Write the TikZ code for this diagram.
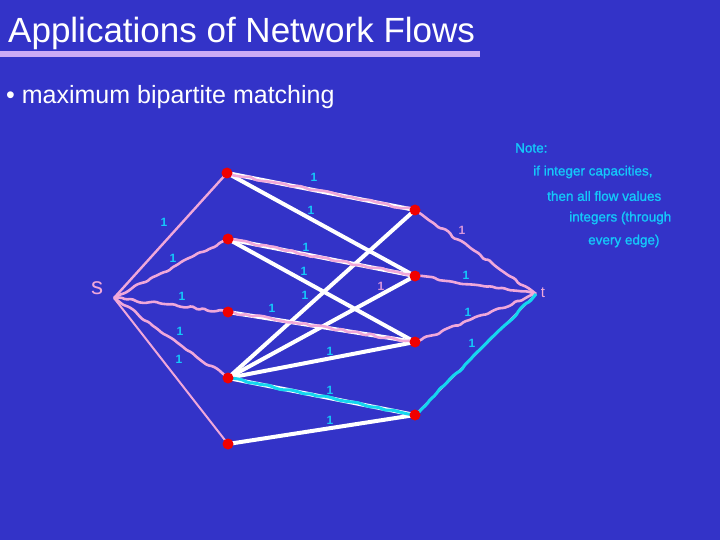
\documentclass[tikz,border=0pt]{standalone}
\usepackage{fontspec}
\setmainfont{Liberation Sans}
\newfontfamily\notefont[FakeBold=1.2]{Liberation Sans}
\usetikzlibrary{decorations.pathmorphing}
\pgfdeclarelayer{bg}
\pgfdeclarelayer{fg}
\pgfsetlayers{bg,main,fg}
\definecolor{bgblue}{RGB}{51,51,200}
\definecolor{flowpink}{RGB}{240,168,218}
\definecolor{barlav}{RGB}{204,170,246}
\definecolor{augcyan}{RGB}{20,215,240}
\definecolor{labcyan}{RGB}{20,200,250}
\definecolor{labpink}{RGB}{215,150,220}
\definecolor{dotred}{RGB}{240,0,0}
\tikzset{
  dot/.style={circle,fill=dotred,inner sep=0pt,minimum size=11pt},
  matchedge/.style={draw=white,line width=4pt},
  flowedge/.style={draw=flowpink,line width=2.6pt,line join=round,rounded corners=1.5pt,
    decorate,decoration={random steps,segment length=6pt,amplitude=1.5pt}},
  flowstraight/.style={draw=flowpink,line width=2.4pt},
  augedge/.style={draw=augcyan,line width=3pt,line join=round,rounded corners=1.5pt,
    decorate,decoration={random steps,segment length=7pt,amplitude=1.2pt}},
  caplab/.style={text=labcyan,font=\bfseries\fontsize{12}{13}\selectfont,inner sep=0pt},
  caplabpink/.style={text=labpink,font=\bfseries\fontsize{12}{13}\selectfont,inner sep=0pt},
  notetext/.style={text=labcyan,font=\notefont\fontsize{13.5}{15}\selectfont,anchor=west,inner sep=0pt},
  vlabel/.style={text=flowpink,inner sep=0pt}
}
\begin{document}
\begin{tikzpicture}[x=1pt,y=-1pt]
\pgfmathsetseed{7}
\begin{pgfonlayer}{bg}
\fill[bgblue] (0,0) rectangle (720,540);
\end{pgfonlayer}
\useasboundingbox (0,0) rectangle (720,540);

% title
\node[text=white,font=\fontsize{35}{40}\selectfont,anchor=base west,inner sep=0pt] (title) at (8,43) {Applications of Network Flows};
\fill[barlav] (0,51) rectangle (480,57);
\node[text=white,font=\fontsize{25}{30}\selectfont,anchor=base west,inner sep=0pt] (bullet) at (6,104) {\textbullet\ maximum bipartite matching};

% nodes
\begin{pgfonlayer}{fg}
\coordinate (s) at (114,298);
\coordinate (t) at (536,294);
\node[dot] (L1) at (227,173) {};
\node[dot] (L2) at (228,239) {};
\node[dot] (L3) at (228,312) {};
\node[dot] (L4) at (228,378) {};
\node[dot] (L5) at (228,444) {};
\node[dot] (R1) at (415,210) {};
\node[dot] (R2) at (415,276) {};
\node[dot] (R3) at (415,342) {};
\node[dot] (R4) at (415,415) {};
\end{pgfonlayer}

% bipartite edges
\draw[matchedge] (L1.center) -- (R1.center);
\draw[matchedge] (L1.center) -- (R2.center);
\draw[matchedge] (L2.center) -- (R2.center);
\draw[matchedge] (L2.center) -- (R3.center);
\draw[matchedge] (L3.center) -- (R3.center);
\draw[matchedge] (L4.center) -- (R1.center);
\draw[matchedge] (L4.center) -- (R2.center);
\draw[matchedge] (L4.center) -- (R3.center);
\draw[matchedge] (L4.center) -- (R4.center);
\draw[matchedge] (L5.center) -- (R4.center);

% flow edges
\draw[flowstraight] (s) -- (L1.center);
\draw[flowedge] (s) -- (L2.center);
\draw[flowedge] (s) -- (L3.center);
\draw[flowedge] (s) -- (L4.center);
\draw[flowstraight,line width=2pt] (s) -- (L5.center);
\draw[flowedge] (L1.center) -- (R1.center);
\draw[flowedge] (L2.center) -- (R2.center);
\draw[flowedge] (L3.center) -- (R3.center);
\draw[flowedge] (R1.center) -- (t);
\draw[flowedge] (R2.center) -- (t);
\draw[flowedge] (R3.center) -- (t);
\draw[flowstraight,line width=2pt] (R4.center) -- (t);

% augmenting path
\draw[augedge] (L4.center) -- (R4.center) -- (t);

% vertex labels
\node[vlabel,font=\fontsize{24}{26}\selectfont] (slab) at (97,288) {s};
\node[vlabel,font=\fontsize{15}{16}\selectfont] (tlab) at (543,293) {t};

% capacities
\node[caplab] (c1) at (314,177) {1};
\node[caplab] (c2) at (164,222) {1};
\node[caplab] (c3) at (311,210) {1};
\node[caplab] (c4) at (173,258) {1};
\node[caplab] (c5) at (306,247) {1};
\node[caplab] (c6) at (304,271) {1};
\node[caplab] (c7) at (182,296) {1};
\node[caplab] (c8) at (305,295) {1};
\node[caplab] (c9) at (272,308) {1};
\node[caplab] (c10) at (330,351) {1};
\node[caplab] (c11) at (466,275) {1};
\node[caplab] (c12) at (468,312) {1};
\node[caplab] (c13) at (472,343) {1};
\node[caplab] (c14) at (180,331) {1};
\node[caplab] (c15) at (179,359) {1};
\node[caplab] (c16) at (330,390) {1};
\node[caplab] (c17) at (330,420) {1};
\node[caplabpink] (c18) at (381,286) {1};
\node[caplabpink] (c19) at (462,230) {1};

% note
\node[notetext] (n1) at (515,148) {Note:};
\node[notetext] (n2) at (533,172) {if integer capacities,};
\node[notetext] (n3) at (547,196) {then all flow values};
\node[notetext] (n4) at (569,218) {integers (through};
\node[notetext] (n5) at (588,241) {every edge)};
\end{tikzpicture}
\end{document}
